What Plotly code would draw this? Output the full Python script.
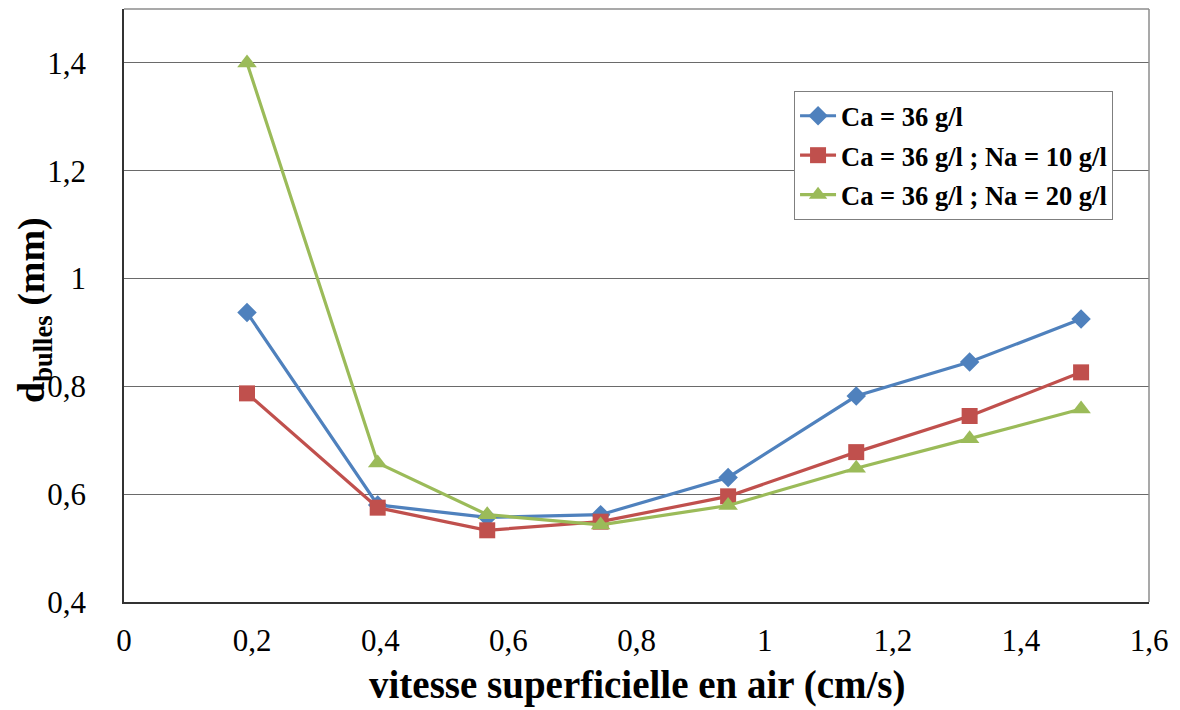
import plotly.graph_objects as go

# Data
x_vals = [0.192, 0.396, 0.567, 0.744, 0.943, 1.143, 1.320, 1.494]
ca36 = [0.937, 0.580, 0.557, 0.562, 0.631, 0.782, 0.845, 0.925]
ca36_na10 = [0.787, 0.575, 0.533, 0.549, 0.596, 0.678, 0.745, 0.826]
ca36_na20 = [1.400, 0.658, 0.562, 0.543, 0.579, 0.648, 0.703, 0.758]

series_names = ["Ca = 36 g/l", "Ca = 36 g/l ; Na = 10 g/l", "Ca = 36 g/l ; Na = 20 g/l"]
colors = ["#4F81BD", "#C0504D", "#9BBB59"]
symbols = ["diamond", "square", "triangle-up"]
sizes = [15, 16, 17]
x_ticks = [0, 0.2, 0.4, 0.6, 0.8, 1.0, 1.2, 1.4, 1.6]
y_ticks = [0.4, 0.6, 0.8, 1.0, 1.2, 1.4]

FONT = "Liberation Serif"

fig = go.Figure()
for i, (name, ys, c, s, sz) in enumerate(zip(series_names, [ca36, ca36_na10, ca36_na20], colors, symbols, sizes)):
    fig.add_trace(go.Scatter(
        x=x_vals, y=ys, mode="lines+markers", name=name, legendgroup=f"g{i}",
        line=dict(color=c, width=3.2),
        marker=dict(symbol=s, size=sz, color=c),
    ))

# page body has an 8px margin: figure occupies 1172x702 of the window
W, H = 1172, 702
L, R, T, B = 116, 31, 1, 108
fig.update_layout(
    width=W, height=H,
    margin=dict(l=L, r=R, t=T, b=B),
    paper_bgcolor="white", plot_bgcolor="white",
    separators=", ",
    font=dict(family=FONT, size=31, color="black"),
    showlegend=True,
    legend=dict(
        x=0.6537, y=0.8617, xanchor="left", yanchor="top",
        bgcolor="white", bordercolor="#7f7f7f", borderwidth=1,
        font=dict(family=FONT, size=26.5, color="black", weight="bold"),
        tracegroupgap=2, itemwidth=36,
    ),
    xaxis=dict(
        range=[0, 1.6], tickvals=x_ticks, showgrid=False, zeroline=False,
        showline=True, linecolor="#333333", linewidth=1.5, ticks="",
        ticklabelstandoff=10,
        tickfont=dict(family=FONT, size=31, color="black"),
    ),
    yaxis=dict(
        range=[0.4, 1.5], tickvals=y_ticks, showgrid=True, gridcolor="#6a6a6a",
        gridwidth=1.3, zeroline=False, showline=True, linecolor="#333333",
        linewidth=1.5, ticks="", ticklabelstandoff=30,
        tickfont=dict(family=FONT, size=31, color="black"),
    ),
    shapes=[
        dict(type="line", xref="x domain", yref="y domain", x0=0, x1=1, y0=1, y1=1,
             line=dict(color="#8c8c8c", width=1.5)),
        dict(type="line", xref="x domain", yref="y domain", x0=1, x1=1, y0=0, y1=1,
             line=dict(color="#8c8c8c", width=1.5)),
    ],
    annotations=[
        dict(text="<b>vitesse superficielle en air (cm/s)</b>", xref="paper", yref="paper",
             x=0.5, y=-(685 - 602) / 593, xanchor="center", yanchor="middle",
             showarrow=False, font=dict(family=FONT, size=39, color="black")),
        dict(text="<b>d<sub>bulles</sub> (mm)</b>", xref="paper", yref="paper",
             x=-(124 - 34) / 1025, y=(602 - 310) / 593, xanchor="center", yanchor="middle",
             textangle=-90, showarrow=False, font=dict(family=FONT, size=38, color="black")),
    ],
)

fig.write_html("out.html")
